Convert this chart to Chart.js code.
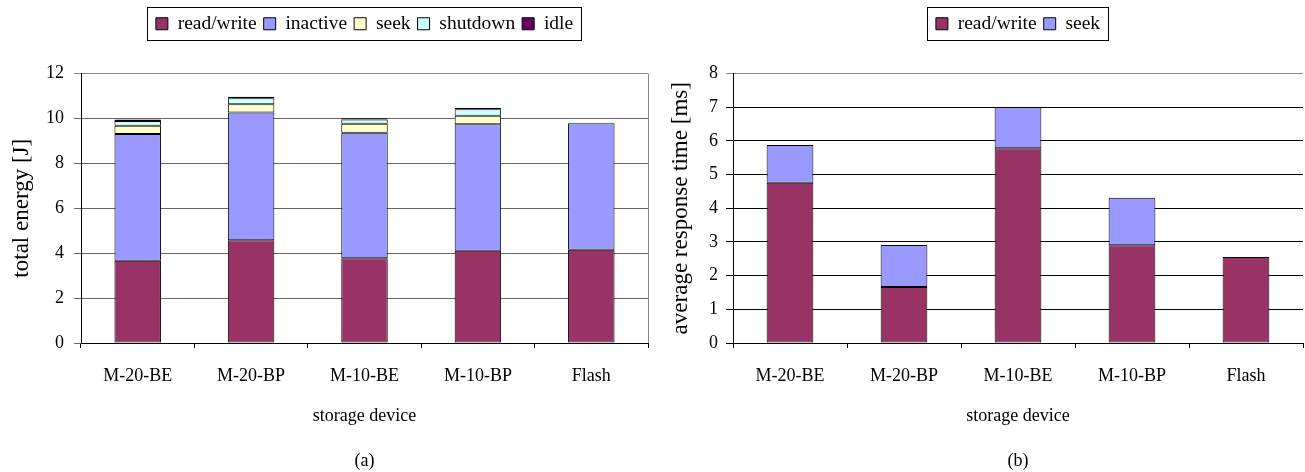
<!DOCTYPE html>
<html>
<head>
<meta charset="utf-8">
<script src="https://cdn.jsdelivr.net/npm/chart.js@4/dist/chart.umd.min.js"></script>
<style>
body{margin:0;background:#fff;}
#energyChart{position:absolute;left:0;top:0;}
#timeChart{position:absolute;left:650px;top:0;}
</style>
</head>
<body>
<canvas id="energyChart" width="650" height="472"></canvas>
<canvas id="timeChart" width="655" height="472"></canvas>
<script>
//数据
var devices=["M-20-BE","M-20-BP","M-10-BE","M-10-BP","Flash"];

//(a) total energy [J]
var energyReadWrite=[3.66,4.58,3.77,4.11,4.15];
var energyInactive=[5.65,5.68,5.59,5.63,5.63];
var energySeek=[0.36,0.37,0.40,0.38,0];
var energyShutdown=[0.22,0.27,0.19,0.29,0];
var energyIdle=[0.06,0.06,0.06,0.06,0];

//(b) average response time [ms]
var timeReadWrite=[4.76,1.66,5.78,2.90,2.55];
var timeSeek=[1.12,1.25,1.22,1.41,0];

Chart.defaults.font.family="'Liberation Serif','Times New Roman',serif";
Chart.defaults.font.size=18;
Chart.defaults.color="#000";

//图例外框
var legendFrame={
    id:"legendFrame",
    afterInit:function(chart){
        var fit=chart.legend.fit;
        chart.legend.fit=function(){
            fit.call(this);
            this.height+=30;
        };
    },
    afterDraw:function(chart){
        var boxes=chart.legend.legendHitBoxes;
        if(!boxes||!boxes.length){return;}
        var last=boxes[boxes.length-1];
        var l=boxes[0].left,r=last.left+last.width;
        var cy=boxes[0].top+boxes[0].height/2;
        var ctx=chart.ctx;
        ctx.save();
        ctx.strokeStyle="#000";
        ctx.lineWidth=1;
        ctx.strokeRect(Math.round(l-9)+0.5,Math.round(cy-17)+0.5,Math.round(r-l+17),33);
        ctx.restore();
    }
};

//绘图区右边框
var plotBorder={
    id:"plotBorder",
    afterDraw:function(chart){
        var a=chart.chartArea,ctx=chart.ctx;
        ctx.save();
        ctx.strokeStyle="#888";
        ctx.lineWidth=1;
        ctx.beginPath();
        ctx.moveTo(Math.round(a.right)+0.5,a.top);
        ctx.lineTo(Math.round(a.right)+0.5,a.bottom);
        ctx.stroke();
        ctx.restore();
    }
};

function barSet(label,data,color){
    return {
        label:label,
        data:data,
        backgroundColor:color,
        borderColor:"#000",
        borderWidth:1,
        borderSkipped:false,
        barPercentage:0.41,
        categoryPercentage:1
    };
}

function makeOptions(yMax,yStep,yTitle,yWidth,yTitlePad,yTickPad,gridColor,caption){
    return {
        responsive:false,
        animation:false,
        events:[],
        layout:{padding:{top:7,left:0,right:2,bottom:0}},
        plugins:{
            legend:{
                position:"top",
                fullSize:false,
                labels:{font:{size:19.5},boxWidth:12,boxHeight:12,padding:7,color:"#000"}
            },
            title:{
                display:true,
                position:"bottom",
                fullSize:false,
                text:caption,
                font:{size:18,weight:"normal"},
                padding:{top:11,bottom:0}
            },
            tooltip:{enabled:false}
        },
        scales:{
            x:{
                stacked:true,
                grid:{offset:true,drawOnChartArea:false,drawTicks:true,tickLength:5,color:"#000"},
                border:{color:"#000"},
                ticks:{padding:17,color:"#000"},
                title:{display:true,text:"storage device",padding:{top:4,bottom:12}},
                afterFit:function(s){s.height=96.4;}
            },
            y:{
                stacked:true,
                min:0,
                max:yMax,
                ticks:{stepSize:yStep,padding:yTickPad,color:"#000"},
                grid:{
                    tickLength:7,
                    color:function(c){return c.tick&&c.tick.value===yMax?"#888":gridColor;}
                },
                border:{color:"#000"},
                title:{display:true,text:yTitle,font:{size:23},padding:{top:yTitlePad,bottom:0}},
                afterFit:function(s){s.width=yWidth;}
            }
        }
    };
}

var energyChart=new Chart(document.getElementById("energyChart"),{
    type:"bar",
    data:{
        labels:devices,
        datasets:[
            barSet("read/write",energyReadWrite,"#993366"),
            barSet("inactive",energyInactive,"#9999FF"),
            barSet("seek",energySeek,"#FFFFCC"),
            barSet("shutdown",energyShutdown,"#CCFFFF"),
            barSet("idle",energyIdle,"#660066")
        ]
    },
    options:makeOptions(12,2,"total energy [J]",81,8,10,"#666","(a)"),
    plugins:[legendFrame,plotBorder]
});

var timeChart=new Chart(document.getElementById("timeChart"),{
    type:"bar",
    data:{
        labels:devices,
        datasets:[
            barSet("read/write",timeReadWrite,"#993366"),
            barSet("seek",timeSeek,"#9999FF")
        ]
    },
    options:makeOptions(8,1,"average response time [ms]",83,17,8,"#000","(b)"),
    plugins:[legendFrame]
});
</script>
</body>
</html>
